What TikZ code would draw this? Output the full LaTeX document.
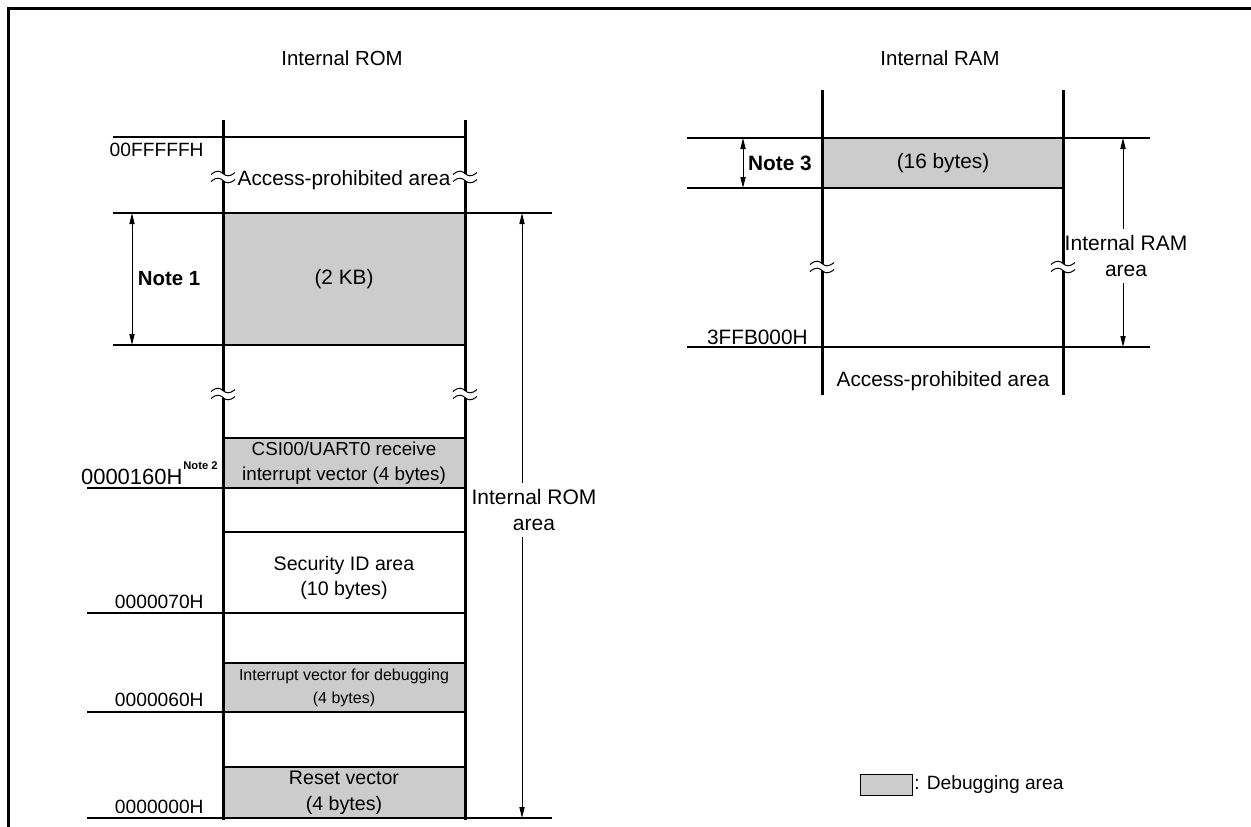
\documentclass[tikz,border=0pt]{standalone}
\usepackage{fontspec}
\setmainfont{Liberation Sans}
\usetikzlibrary{arrows.meta}

\definecolor{dbggray}{HTML}{CCCCCC}

\tikzset{
  wall/.style={line width=1.5pt},
  rule/.style={line width=0.55pt},
  dbgarea/.style={fill=dbggray, draw, line width=0.65pt},
  dimarrow/.style={line width=0.5pt, -{Triangle[length=5.5pt,width=2.6pt]}},
  twoway/.style={line width=0.5pt, {Triangle[length=5.5pt,width=2.6pt]}-{Triangle[length=5.5pt,width=2.6pt]}},
  lbl/.style={align=center, inner sep=1pt, font=\fontsize{10.4}{12.8}\selectfont},
  hdr/.style={inner sep=1pt, font=\fontsize{10.2}{12}\selectfont},
  addr/.style={anchor=east, inner sep=0pt, font=\fontsize{9.6}{11}\selectfont},
  notetxt/.style={inner sep=1pt, font=\fontsize{10.2}{12}\selectfont\bfseries},
  brk/.pic={
    \fill[white] (-2.5,-3.5) rectangle (2.5,3.5);
    \draw[line width=0.5pt] (-12,-2.5) .. controls (-6,-7.5) and (-3,-6) .. (0,-3.5)
      .. controls (3,-1) and (6,0.5) .. (12,-4.5);
    \draw[line width=0.5pt] (-12,4.5) .. controls (-6,-0.5) and (-3,1) .. (0,3.5)
      .. controls (3,6) and (6,7.5) .. (12,2.5);
  }
}

\begin{document}
\begin{tikzpicture}[x=0.5pt, y=-0.5pt]
    \useasboundingbox (0,0) rectangle (1251,826);
    % frame
    \draw[line width=1.5pt] (8,830) -- (8,8) -- (1255,8);

    % Internal ROM
    \node[hdr] (romhdr) at (342,58) {Internal ROM};
    \filldraw[dbgarea] (223,213) rectangle (465,345);
    \filldraw[dbgarea] (223,438) rectangle (465,488);
    \filldraw[dbgarea] (223,663) rectangle (465,712);
    \filldraw[dbgarea] (223,767) rectangle (465,818);
    \draw[rule] (113,137) -- (465,137);
    \draw[rule] (113,213) -- (552,213);
    \draw[rule] (113,345) -- (223,345);
    \draw[rule] (87,488) -- (223,488);
    \draw[rule] (223,532) -- (465,532);
    \draw[rule] (87,613) -- (465,613);
    \draw[rule] (87,712) -- (223,712);
    \draw[rule] (87,818) -- (552,818);
    \draw[wall] (223,120) -- (223,820);
    \draw[wall] (465,120) -- (465,820);
    \pic at (223,177) {brk};
    \pic at (465,177) {brk};
    \pic at (223,394) {brk};
    \pic at (465,394) {brk};

    \node[lbl] (romfree) at (344,180) {Access-prohibited area};
    \node[lbl] (kb) at (344,279) {(2 KB)};
    \node[lbl, font=\fontsize{9.4}{12.8}\selectfont] (csi) at (344,463) {CSI00/UART0 receive\\interrupt vector (4 bytes)};
    \node[lbl, font=\fontsize{9.8}{12.4}\selectfont] (secid) at (344,578) {Security ID area\\(10 bytes)};
    \node[lbl, font=\fontsize{8}{11.6}\selectfont] (dbgvec) at (344,688) {Interrupt vector for debugging\\(4 bytes)};
    \node[lbl, font=\fontsize{9.8}{13.2}\selectfont] (rst) at (344,793) {Reset vector\\(4 bytes)};

    \node[addr] (aFFF) at (204,150) {00FFFFFH};
    \node[anchor=north east, inner sep=0pt, font=\fontsize{5.6}{6}\selectfont\bfseries] (n2) at (218,461) {Note 2};
    \node[addr, font=\fontsize{11}{13}\selectfont] (a160) at (n2.west |- 0,477) {0000160H};
    \node[addr] (a070) at (204,602) {0000070H};
    \node[addr] (a060) at (204,700) {0000060H};
    \node[addr] (a000) at (204,807) {0000000H};

    \coordinate (n1top) at (132,213);
    \coordinate (n1bot) at (132,345);
    \draw[twoway] (n1top) -- (n1bot);
    \node[notetxt] (n1) at (169,279) {Note 1};

    \coordinate (romtop) at (522,213);
    \coordinate (rombot) at (522,818);
    \node[lbl, font=\fontsize{10.5}{13}\selectfont, inner sep=3pt] (romarea) at (534,510) {Internal ROM\\area};
    \draw[dimarrow] (romarea.north -| romtop) -- (romtop);
    \draw[dimarrow] (romarea.south -| rombot) -- (rombot);

    % Internal RAM
    \node[hdr] (ramhdr) at (940,58) {Internal RAM};
    \filldraw[dbgarea] (822,138) rectangle (1063,188);
    \draw[rule] (687,138) -- (1150,138);
    \draw[rule] (687,188) -- (822,188);
    \draw[rule] (687,347) -- (1150,347);
    \draw[wall] (822,90) -- (822,395);
    \draw[wall] (1063,90) -- (1063,395);
    \pic at (822,267) {brk};
    \pic at (1063,267) {brk};

    \node[lbl] (b16) at (943,163) {(16 bytes)};
    \coordinate (n3top) at (743,138);
    \coordinate (n3bot) at (743,188);
    \draw[twoway] (n3top) -- (n3bot);
    \node[notetxt, font=\fontsize{10.4}{12}\selectfont\bfseries] (n3) at (780,163) {Note 3};
    \node[addr, font=\fontsize{10.4}{12}\selectfont] (aB000) at (808,337) {3FFB000H};
    \node[lbl] (ramfree) at (943,381) {Access-prohibited area};

    \coordinate (ramtop) at (1123,138);
    \coordinate (rambot) at (1123,347);
    \node[lbl, font=\fontsize{10.5}{13}\selectfont, inner sep=3pt] (ramarea) at (1126,256) {Internal RAM\\area};
    \draw[dimarrow] (ramarea.north -| ramtop) -- (ramtop);
    \draw[dimarrow] (ramarea.south -| rambot) -- (rambot);

    % legend
    \filldraw[dbgarea, line width=0.5pt] (860,774) rectangle (912,795);
    \node[anchor=west, inner sep=1pt, font=\fontsize{9.6}{11}\selectfont] (legtxt) at (912,785) {: Debugging area};
\end{tikzpicture}
\end{document}
